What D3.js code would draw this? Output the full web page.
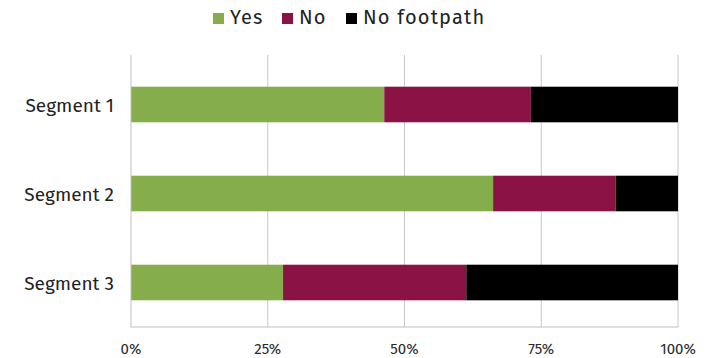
<!DOCTYPE html>
<html><head><meta charset="utf-8">
<script src="https://cdn.jsdelivr.net/npm/d3@7"></script>
<style>body{margin:0;background:#fff}</style>
</head><body>
<svg id="c" width="708" height="358"></svg>
<script>
const categories = ["Segment 1", "Segment 2", "Segment 3"];
const seriesNames = ["Yes", "No", "No footpath"];
const yesValues = [46.3, 66.2, 27.8];
const noValues = [26.8, 22.4, 33.5];
const noFootpathValues = [26.9, 11.4, 38.7];
const tickValues = [0, 25, 50, 75, 100];
const colors = ["#86ad4b", "#8a1244", "#000000"];

const svg = d3.select("#c");
const font = "'Fira Sans','Open Sans','Noto Sans',sans-serif";
const m = {left: 131, right: 30, top: 60, bottom: 31};
const W = 708, H = 358;
const x = d3.scaleLinear().domain([0, 100]).range([m.left, W - m.right]);
const y = d3.scaleBand().domain(categories).range([m.top, H - m.bottom]).paddingInner(0.6).paddingOuter(0.3);

const rows = categories.map((c, i) => ({cat: c, "Yes": yesValues[i], "No": noValues[i], "No footpath": noFootpathValues[i]}));
const stack = d3.stack().keys(seriesNames)(rows);

// gridlines
svg.append("g").selectAll("line").data(tickValues.slice(1)).join("line")
  .attr("x1", d => x(d)).attr("x2", d => x(d))
  .attr("y1", m.top - 5).attr("y2", H - m.bottom)
  .attr("stroke", "#c8c8c8").attr("stroke-width", 1);

// bars
svg.append("g").selectAll("g").data(stack).join("g")
  .attr("fill", (d, i) => colors[i])
  .selectAll("rect").data(d => d).join("rect")
  .attr("x", d => x(d[0])).attr("width", d => x(d[1]) - x(d[0]))
  .attr("y", d => y(d.data.cat)).attr("height", y.bandwidth());

// axes lines
svg.append("line").attr("x1", m.left).attr("x2", m.left).attr("y1", m.top - 5).attr("y2", H - m.bottom)
  .attr("stroke", "#bfbfbf");
svg.append("line").attr("x1", m.left).attr("x2", x(100)).attr("y1", H - m.bottom).attr("y2", H - m.bottom)
  .attr("stroke", "#bfbfbf");

// x tick labels
svg.append("g").selectAll("text").data(tickValues).join("text")
  .attr("x", d => x(d)).attr("y", 354)
  .attr("text-anchor", "middle").attr("font-family", font).attr("font-size", 15).attr("fill", "#2a2a2a")
  .text(d => d + "%");

// y labels
svg.append("g").selectAll("text").data(categories).join("text")
  .attr("x", 114).attr("y", d => y(d) + y.bandwidth() / 2 + 7)
  .attr("text-anchor", "end").attr("font-family", font).attr("font-size", 19).attr("fill", "#222")
  .text(d => d);

// legend
const legendX = [213, 282, 346];
const lg = svg.append("g").selectAll("g").data(seriesNames).join("g")
  .attr("transform", (d, i) => `translate(${legendX[i]},0)`);
lg.append("rect").attr("x", 0).attr("y", 13).attr("width", 11).attr("height", 11).attr("fill", (d, i) => colors[i]);
lg.append("text").attr("x", 17).attr("y", 24).attr("font-family", font).attr("font-size", 20).attr("fill", "#222")
  .attr("letter-spacing", 1.2).text(d => d);
</script>
</body></html>
